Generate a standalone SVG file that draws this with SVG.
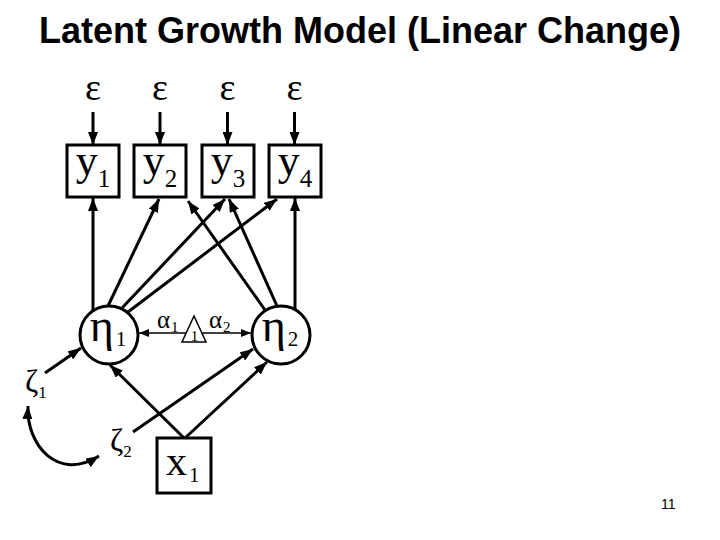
<svg xmlns="http://www.w3.org/2000/svg" width="720" height="540" viewBox="0 0 720 540">
<defs>
<style>
.box{fill:#fff;stroke:#000;stroke-width:3}
.circ{fill:#fff;stroke:#000;stroke-width:3}
.tri{fill:#fff;stroke:#000;stroke-width:1.5}
.edge{fill:none;stroke:#000;stroke-width:3;marker-end:url(#ah)}
.thin{fill:none;stroke:#000;stroke-width:1.5;marker-end:url(#ahs)}
.serif{font-family:"Liberation Serif","Times New Roman",serif;fill:#000}
.title{font-family:"Liberation Sans",Arial,sans-serif;font-weight:bold;font-size:36px;fill:#000}
</style>
<marker id="ah" viewBox="0 0 13 10" refX="13" refY="5" markerWidth="13" markerHeight="10" markerUnits="userSpaceOnUse" orient="auto-start-reverse"><path d="M0,0 L13,5 L0,10 z" fill="#000"/></marker>
<marker id="ahs" viewBox="0 0 10 8" refX="10" refY="4" markerWidth="10" markerHeight="8" markerUnits="userSpaceOnUse" orient="auto"><path d="M0,0 L10,4 L0,8 z" fill="#000"/></marker>
</defs>
<rect width="720" height="540" fill="#fff"/>
<text class="title" x="360" y="43" text-anchor="middle">Latent Growth Model (Linear Change)</text>

<g id="connectors">
<line class="edge" x1="93" y1="112" x2="93" y2="145"/>
<line class="edge" x1="160" y1="112" x2="160" y2="145"/>
<line class="edge" x1="227.5" y1="112" x2="227.5" y2="145"/>
<line class="edge" x1="294.5" y1="112" x2="294.5" y2="145"/>
<line class="edge" x1="93" y1="311" x2="93" y2="198"/>
<line class="edge" x1="108" y1="306" x2="159" y2="199"/>
<line class="edge" x1="122" y1="308" x2="225" y2="199"/>
<line class="edge" x1="128" y1="312" x2="277" y2="199"/>
<line class="edge" x1="265" y1="310" x2="188" y2="201"/>
<line class="edge" x1="277" y1="306" x2="229" y2="199"/>
<line class="edge" x1="295" y1="310" x2="295" y2="198"/>
<line class="thin" x1="186" y1="333" x2="139" y2="333"/>
<line class="thin" x1="202" y1="333" x2="251" y2="333"/>
<line class="edge" x1="45" y1="373" x2="81" y2="348"/>
<line class="edge" x1="184" y1="438" x2="110" y2="365"/>
<line class="edge" x1="133" y1="432" x2="253" y2="349"/>
<line class="edge" x1="185" y1="438" x2="267" y2="362"/>
<path class="edge" d="M28,406 C26,445 58,482 99,456" marker-start="url(#ah)"/>
</g>

<g id="e1"><text class="serif" x="93" y="100" font-size="38" text-anchor="middle">ε</text></g>
<g id="e2"><text class="serif" x="160" y="100" font-size="38" text-anchor="middle">ε</text></g>
<g id="e3"><text class="serif" x="227.5" y="100" font-size="38" text-anchor="middle">ε</text></g>
<g id="e4"><text class="serif" x="294.5" y="100" font-size="38" text-anchor="middle">ε</text></g>

<g id="y1"><rect class="box" x="67" y="145" width="52" height="52"/><text class="serif" x="93" y="175" font-size="44" text-anchor="middle">y<tspan font-size="25" dy="12">1</tspan></text></g>
<g id="y2"><rect class="box" x="134" y="145" width="52" height="52"/><text class="serif" x="160" y="175" font-size="44" text-anchor="middle">y<tspan font-size="25" dy="12">2</tspan></text></g>
<g id="y3"><rect class="box" x="202" y="145" width="52" height="52"/><text class="serif" x="228" y="175" font-size="44" text-anchor="middle">y<tspan font-size="25" dy="12">3</tspan></text></g>
<g id="y4"><rect class="box" x="269" y="145" width="52" height="52"/><text class="serif" x="295" y="175" font-size="44" text-anchor="middle">y<tspan font-size="25" dy="12">4</tspan></text></g>

<g id="eta1"><circle class="circ" cx="109" cy="335" r="29"/><text class="serif" x="108" y="341" font-size="46" text-anchor="middle">η<tspan font-size="21" dx="2" dy="5">1</tspan></text></g>
<g id="eta2"><circle class="circ" cx="281" cy="335" r="29"/><text class="serif" x="280" y="341" font-size="46" text-anchor="middle">η<tspan font-size="21" dx="2" dy="5">2</tspan></text></g>

<g id="const"><polygon class="tri" points="182,342 206,342 194,316"/><text class="serif" x="194.5" y="341" font-size="15" text-anchor="middle">1</text></g>
<g id="alpha1"><text class="serif" x="157" y="328" font-size="25">α<tspan font-size="15" dx="1" dy="4">1</tspan></text></g>
<g id="alpha2"><text class="serif" x="209" y="328" font-size="25">α<tspan font-size="15" dx="1" dy="4">2</tspan></text></g>

<g id="zeta1"><text class="serif" x="25" y="392" font-size="32">ζ<tspan font-size="17" dx="0" dy="6">1</tspan></text></g>
<g id="zeta2"><text class="serif" x="110" y="451" font-size="32">ζ<tspan font-size="17" dx="0" dy="6">2</tspan></text></g>

<g id="x1"><rect class="box" x="157" y="438" width="54" height="55"/><text class="serif" x="166" y="475" font-size="42">x<tspan font-size="21" dx="2" dy="7">1</tspan></text></g>

<text x="661" y="509" font-family="Liberation Sans,Arial,sans-serif" font-size="14" fill="#000">11</text>
</svg>
